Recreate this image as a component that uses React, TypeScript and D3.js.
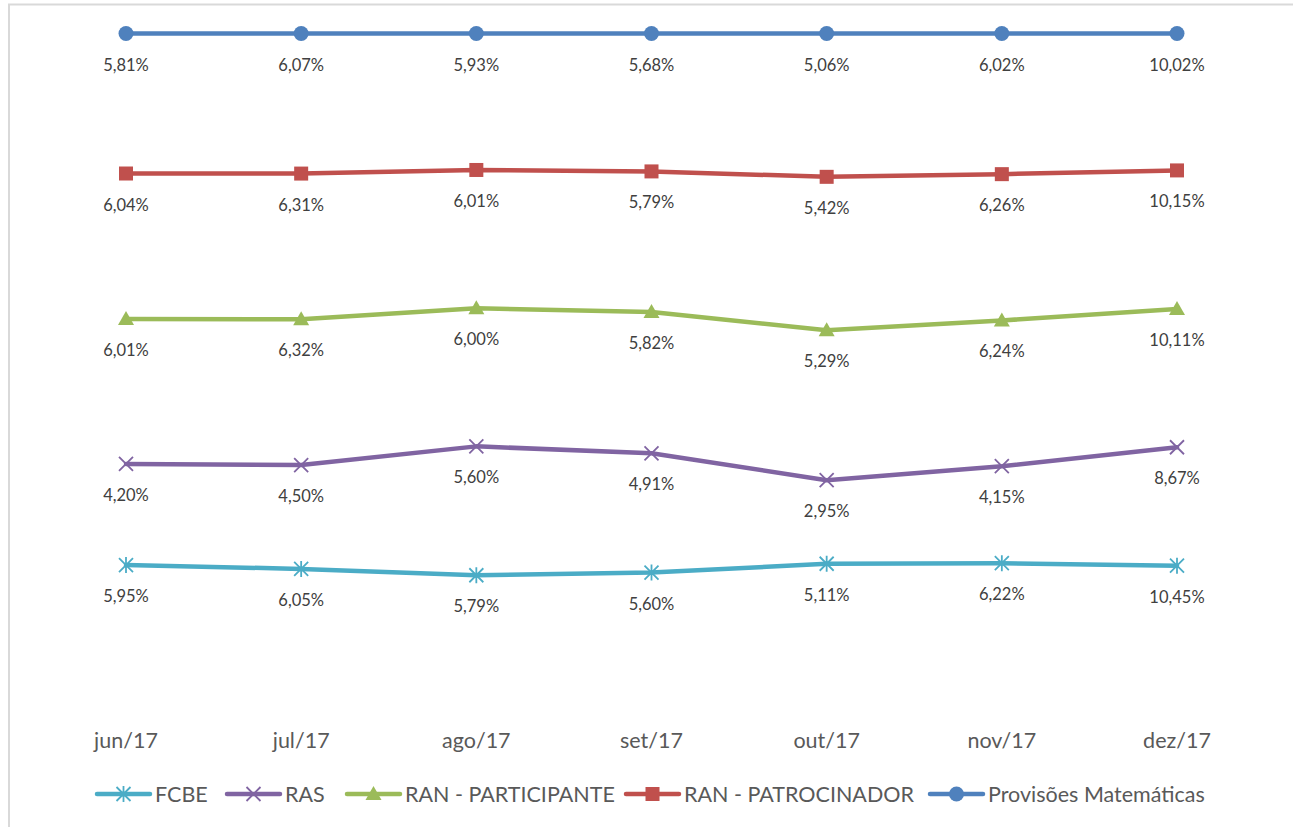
import React from "react";
import * as d3 from "d3";

const categories = ["jun/17", "jul/17", "ago/17", "set/17", "out/17", "nov/17", "dez/17"];
const seriesNames = ["FCBE", "RAS", "RAN - PARTICIPANTE", "RAN - PATROCINADOR", "Provisões Matemáticas"];
const fcbe = [5.95, 6.05, 5.79, 5.6, 5.11, 6.22, 10.45];
const ras = [4.2, 4.5, 5.6, 4.91, 2.95, 4.15, 8.67];
const ranParticipante = [6.01, 6.32, 6.0, 5.82, 5.29, 6.24, 10.11];
const ranPatrocinador = [6.04, 6.31, 6.01, 5.79, 5.42, 6.26, 10.15];
const provisoes = [5.81, 6.07, 5.93, 5.68, 5.06, 6.02, 10.02];

const seriesValues = [fcbe, ras, ranParticipante, ranPatrocinador, provisoes];
const colors = ["#4BACC6", "#8064A2", "#9BBB59", "#C0504D", "#4F81BD"];
const markers = ["star", "x", "triangle", "square", "circle"];
const legendTextX = [155, 285, 405, 684, 988];

const FONT = "Lato, 'Open Sans', sans-serif";

function Marker({ type, x, y, color }: { type: string; x: number; y: number; color: string }) {
  const s = 7;
  if (type === "circle") return <circle cx={x} cy={y} r={7.5} fill={color} />;
  if (type === "square") return <rect x={x - 7} y={y - 7} width={14} height={14} fill={color} />;
  if (type === "triangle")
    return <path d={`M${x},${y - 8}L${x + 8},${y + 6}L${x - 8},${y + 6}Z`} fill={color} />;
  if (type === "x")
    return (
      <path d={`M${x - s},${y - s}L${x + s},${y + s}M${x - s},${y + s}L${x + s},${y - s}`} stroke={color} strokeWidth={1.8} fill="none" />
    );
  return (
    <path
      d={`M${x - s},${y - s}L${x + s},${y + s}M${x - s},${y + s}L${x + s},${y - s}M${x},${y - s - 1}L${x},${y + s + 1}`}
      stroke={color}
      strokeWidth={1.8}
      fill="none"
    />
  );
}

export default function App() {
  const W = 1293;
  const H = 827;
  const table = categories.map((c, i) => {
    const row: any = { cat: c };
    seriesNames.forEach((n, k) => (row[n] = seriesValues[k][i]));
    return row;
  });
  const stacked = d3.stack<any>().keys(seriesNames).offset(d3.stackOffsetExpand)(table);
  const x = d3.scalePoint<string>().domain(categories).range([126, 1177]);
  const y = d3.scaleLinear().domain([0, 1]).range([708.5, 33.5]);
  const line = d3
    .line<any>()
    .x((d) => x(d.data.cat) as number)
    .y((d) => y(d[1]));
  const fmt = (v: number) => v.toFixed(2).replace(".", ",") + "%";

  return (
    <svg width={W} height={H} style={{ position: "absolute", left: 0, top: 0, background: "#fff" }} fontFamily={FONT}>
      <rect x={0} y={0} width={W} height={H} fill="#fff" />
      <path d={`M9,${H}L9,4.5L${W},4.5`} fill="none" stroke="#d9d9d9" strokeWidth={2} />
      {stacked.map((s, k) => (
        <g key={seriesNames[k]}>
          <path d={line(s) || ""} fill="none" stroke={colors[k]} strokeWidth={4.5} strokeLinejoin="round" strokeLinecap="round" />
          {s.map((d, i) => (
            <Marker key={i} type={markers[k]} x={x(d.data.cat) as number} y={y(d[1])} color={colors[k]} />
          ))}
          {s.map((d, i) => (
            <text key={"t" + i} x={x(d.data.cat) as number} y={y(d[1]) + 37} textAnchor="middle" fontSize={16.5} fill="#404040">
              {fmt(seriesValues[k][i])}
            </text>
          ))}
        </g>
      ))}
      {categories.map((c) => (
        <text key={c} x={x(c) as number} y={748} textAnchor="middle" fontSize={21.5} fill="#595959">
          {c}
        </text>
      ))}
      {seriesNames.map((n, k) => {
        const tx = legendTextX[k];
        const x0 = tx - 58;
        const x1 = tx - 5;
        const cx = (x0 + x1) / 2;
        return (
          <g key={n}>
            <line x1={x0} x2={x1} y1={794} y2={794} stroke={colors[k]} strokeWidth={4.5} strokeLinecap="round" />
            <Marker type={markers[k]} x={cx} y={794} color={colors[k]} />
            <text x={tx} y={802} fontSize={21.5} fill="#595959">
              {n}
            </text>
          </g>
        );
      })}
    </svg>
  );
}
